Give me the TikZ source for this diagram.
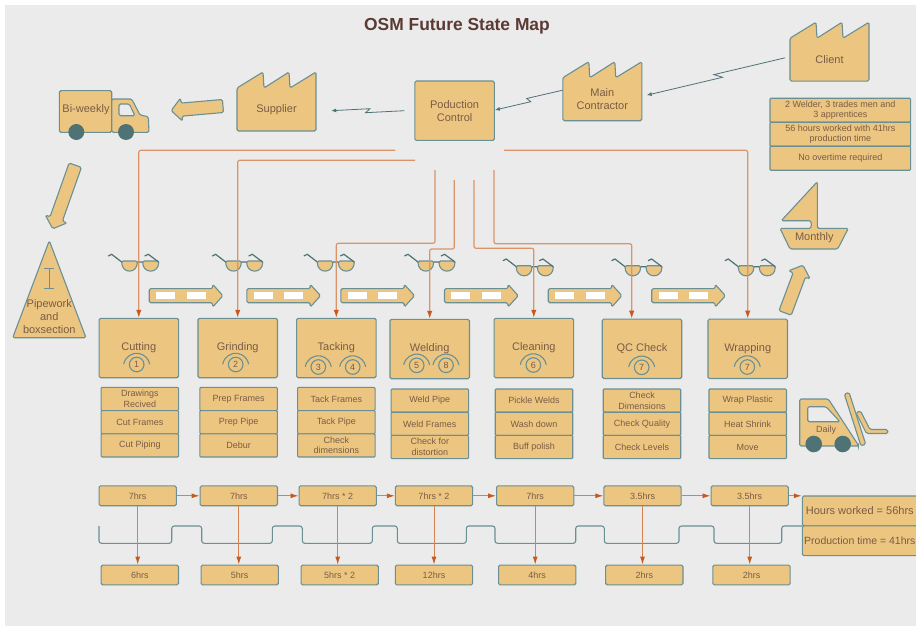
\documentclass[tikz,border=0pt]{standalone}
\usepackage{fontspec}
\setmainfont{Liberation Sans}
\usetikzlibrary{arrows.meta,calc,shapes.arrows}

\definecolor{panelgrey}{HTML}{EBEBEB}
\definecolor{boxfill}{HTML}{ECC681}
\definecolor{boxline}{HTML}{6A9093}
\definecolor{darkteal}{HTML}{4F7275}
\definecolor{labelbrown}{HTML}{7A5B45}
\definecolor{titlebrown}{HTML}{5B3A34}
\definecolor{signalline}{HTML}{DB9468}
\definecolor{tiporange}{HTML}{C8591E}

\tikzset{
    vsm/.style={draw=boxline, fill=boxfill, line width=1.1pt, rounded corners=1.5pt},
    textbig/.style={text=labelbrown, font=\fontsize{11}{13.2}\selectfont, align=center},
    textsmall/.style={text=labelbrown, font=\fontsize{9}{10.7}\selectfont, align=center},
    process_box/.style={vsm, textbig, rectangle, inner sep=0pt, minimum width=79.5pt, minimum height=59.4pt},
    row_box/.style={vsm, textsmall, rectangle, rounded corners=1pt, inner sep=0pt, minimum width=77.5pt, minimum height=23.2pt},
    time_box/.style={vsm, textsmall, rectangle, inner sep=0pt, minimum width=77.3pt, minimum height=19.8pt},
    info_box/.style={vsm, textsmall, rectangle, rounded corners=1pt, inner sep=0pt, minimum width=140.7pt, minimum height=24pt},
    total_box/.style={vsm, textbig, rectangle, inner sep=0pt, minimum width=115pt, minimum height=29.8pt},
    factory_body/.style={textbig, rectangle, inner sep=0pt, minimum width=79pt, minimum height=43pt},
    gauge_dial/.style={circle, draw=boxline, line width=1.1pt, textsmall, inner sep=0pt, minimum size=14.6pt},
    gauge_arc/.style={draw=boxline, line width=1.1pt},
    bulky_arrow/.style={vsm, single arrow, inner sep=0pt, text height=12pt, text depth=0pt, text width=0pt, single arrow head extend=5pt, single arrow tip angle=96},
    push_arrow/.style={bulky_arrow, minimum height=73.7pt, text height=13pt, single arrow head extend=4.35pt},
    phone_line/.style={draw=darkteal, line width=.8pt, -{Latex[length=5pt,width=4pt]}},
    signal_line/.style={draw=signalline, line width=1.2pt, rounded corners=2pt, -{Latex[length=8pt,width=5.5pt,color=tiporange]}},
    flow_line/.style={draw=signalline!70!tiporange, line width=.9pt, -{Latex[length=8pt,width=5pt,color=tiporange]}},
    zigzag/.style={to path={-- ($(\tikztostart)!.53!(\tikztotarget)+(0,#1)$) -- ($(\tikztostart)!.47!(\tikztotarget)+(0,-#1)$) -- (\tikztotarget)}}
}

% factory with its body as the node
\newcommand{\factory}[4]{
        \draw[vsm, shift={(#2,#3)}] (-39.5,-21.5) -- (-13.5,-37.5) -- (-12.5,-21.5) -- (12.5,-37.5) -- (13.5,-21.5) -- (39.5,-37.5) -- (39.5,21.5) -- (-39.5,21.5) -- cycle;
        \node[factory_body] (#1) at (#2,#3) {#4};
}
% go see glasses
\newcommand{\glasses}[2]{
        \draw[vsm, shift={(#1,#2)}] (-18.5,0) .. controls (-18.5,13) and (-2.9,13) .. (-2.9,0) -- cycle;
        \draw[vsm, shift={(#1,#2)}] (2.5,0) .. controls (2.5,13) and (18.5,13) .. (18.5,0) -- cycle;
        \draw[darkteal, line width=1.2pt, shift={(#1,#2)}] (-32,-5) -- (-28.5,-6.7) -- (-18.5,1) (-2.9,1) -- (2.5,1) (4.5,-5) -- (8.1,-6.7) -- (18.5,1);
}
% operator dial
\newcommand{\gauge}[4]{
        \node[gauge_dial] (#1) at (#2,#3) {#4};
        \draw[gauge_arc] (#2-13,#3-.3) arc[start angle=170, end angle=10, radius=13.2pt];
}
% three rows under a process
\newcommand{\taskstack}[6]{
        \node[row_box] (#1_a) at (#2,#3) {#4};
        \node[row_box] (#1_b) at (#2,#3+23.2) {#5};
        \node[row_box] (#1_c) at (#2,#3+46.4) {#6};
}
% striped push arrow
\newcommand{\pusharrow}[2]{
        \node[push_arrow] (#1) at (#2-3,295.7) {};
        \fill[white] (#2-29.8,292.4) rectangle ++(19,6.8);
        \fill[white] (#2+.7,292.4) rectangle ++(19,6.8);
}

\begin{document}
\begin{tikzpicture}[x=1pt,y=-1pt]
        \useasboundingbox (0,0) rectangle (916,626);
        \fill[panelgrey] (5,5) rectangle (916,626);

        \node[text=titlebrown, font=\fontsize{17.4}{20}\selectfont\bfseries] (title) at (457,26) {OSM Future State Map};

        % top row
        \factory{supplier}{276.5}{109.5}{Supplier}
        \factory{contractor}{602.3}{99.2}{Main\\Contractor}
        \factory{client}{829.5}{59.7}{Client}
        \node[process_box] (control) at (454.6,110.7) {Poduction\\Control};

        \draw[phone_line, shorten <=5pt] ([yshift=3pt]client.west) to[zigzag=-2.5] ([yshift=4pt,xshift=4.7pt]contractor.east);
        \draw[phone_line] ([yshift=9pt]contractor.west) to[zigzag=-2.2] ([yshift=.7pt]control.east);
        \draw[phone_line] ([xshift=-10pt]control.west) to[zigzag=2] ([xshift=15pt,yshift=-1.2pt]supplier.east);

        % truck
        \draw[vsm] (59.3,90.7) rectangle (111.7,132.3);
        \draw[vsm] (111.7,99) -- (131.7,99) -- (140,115) -- (148.3,116.7) -- (149,132.3) -- (111.7,132.3) -- cycle;
        \draw[vsm, fill=panelgrey] (119,104) -- (129.3,104) -- (135,115.7) -- (119,115.7) -- cycle;
        \fill[darkteal] (76.3,132) circle[radius=8pt] (126,132) circle[radius=8pt];
        \node[textbig] (truck) at (86,109.3) {Bi-weekly};

        \node[bulky_arrow, minimum height=52pt, rotate=185] (arrow_supplier) at (200,108) {};
        \node[bulky_arrow, minimum height=67.5pt, rotate=250.5] (arrow_truck) at (65,194.2) {};
        \node[bulky_arrow, minimum height=51pt, rotate=69.5] (arrow_monthly) at (793,291.8) {};

        % inventory
        \draw[vsm] (49.3,240.7) -- (86,337.7) -- (12.7,337.7) -- cycle;
        \draw[boxline, line width=1pt] (44.3,268.3) -- (54.3,268.3) (49.3,268.3) -- (49.3,288.3) (44.3,288.3) -- (54.3,288.3);
        \node[textbig] (pipework) at (49.3,316.7) {Pipework\\and\\boxsection};

        % boat
        \draw[vsm] (817.3,181.7) -- (781.3,220.7) -- (808,220.7) .. controls (812,220.7) and (812,228.3) .. (808,228.3) -- (780,228.3) -- (790,249) -- (837.7,249) -- (848.3,228.3) -- (817.3,228.3) -- cycle;
        \node[textbig] (monthly) at (814.3,238) {Monthly};

        % info table
        \node[info_box] (info_a) at (840.3,110.2) {2 Welder, 3 trades men and\\3 apprentices};
        \node[info_box] (info_b) at (840.3,134.2) {56 hours worked with 41hrs\\production time};
        \node[info_box] (info_c) at (840.3,158.2) {No overtime required};

        % forklift
        \draw[vsm] (856,412.5) -- (860.5,411) -- (870,429.5) -- (887.5,429.5) -- (888,433.5) -- (866.5,433.5) -- cycle;
        \draw[vsm] (844.3,394.1) -- (849.1,392.5) -- (865.7,444.2) -- (860.9,445.8) -- cycle;
        \draw[vsm] (799.7,399) -- (828.3,399) -- (858.3,445) -- (858.3,446) -- (799.7,446) -- cycle;
        \draw[vsm, fill=panelgrey] (807.7,406.7) -- (826,406.7) -- (840,421.7) -- (807.7,421.7) -- cycle;
        \fill[darkteal] (813.7,444) circle[radius=8.3pt] (842.7,444) circle[radius=8.3pt];
        \node[textsmall] (forklift) at (826,430) {Daily};

        % glasses
        \glasses{140.2}{261}
        \glasses{244.2}{261}
        \glasses{335.8}{261}
        \glasses{436.5}{261}
        \glasses{534.8}{265.7}
        \glasses{643.5}{265.7}
        \glasses{756.8}{265.7}

        % push arrows
        \pusharrow{push1}{185.9}
        \pusharrow{push2}{283.5}
        \pusharrow{push3}{377.5}
        \pusharrow{push4}{481.2}
        \pusharrow{push5}{584.9}
        \pusharrow{push6}{688.4}

        % process boxes
        \node[process_box] (cutting) at (138.8,348) {Cutting};
        \node[process_box] (grinding) at (237.7,348) {Grinding};
        \node[process_box] (tacking) at (336.3,348) {Tacking};
        \node[process_box] (welding) at (429.7,349) {Welding};
        \node[process_box] (cleaning) at (533.8,348) {Cleaning};
        \node[process_box] (qc) at (642,348.8) {QC Check};
        \node[process_box] (wrapping) at (747.7,348.8) {Wrapping};

        \gauge{dial1}{136.7}{364.5}{1}
        \gauge{dial2}{235.7}{364.5}{2}
        \gauge{dial3}{318.3}{367}{3}
        \gauge{dial4}{352.7}{367}{4}
        \gauge{dial5}{416.7}{365.3}{5}
        \gauge{dial8}{446}{365.3}{8}
        \gauge{dial6}{533.3}{365}{6}
        \gauge{dial7}{641.7}{367.3}{7}
        \gauge{dial9}{747.3}{367}{7}

        % signals from control
        \coordinate (signal1) at (395.3,150.3);
        \coordinate (signal2) at (415,160.3);
        \coordinate (signal3) at (435,170);
        \coordinate (signal4) at (454.3,180);
        \coordinate (signal5) at (474,180);
        \coordinate (signal6) at (494,170);
        \coordinate (signal7) at (504,150.3);
        \draw[signal_line] (signal1) -| (cutting.north);
        \draw[signal_line] (signal2) -| (grinding.north);
        \draw[signal_line] (signal3) -- ++(0,73.3) -| (tacking.north);
        \draw[signal_line] (signal4) -- ++(0,69) -| (welding.north);
        \draw[signal_line] (signal5) -- ++(0,68.3) -| (cleaning.north);
        \draw[signal_line] (signal6) -- ++(0,73.7) -| ([xshift=-10.3pt]qc.north);
        \draw[signal_line] (signal7) -| (wrapping.north);

        % task rows
        \taskstack{cutting}{139.8}{399}{Drawings\\Recived}{Cut Frames}{Cut Piping}
        \taskstack{grinding}{238.6}{399}{Prep Frames}{Prep Pipe}{Debur}
        \taskstack{tacking}{336.3}{399}{Tack Frames}{Tack Pipe}{Check\\dimensions}
        \taskstack{welding}{429.8}{400.6}{Weld Pipe}{Weld Frames}{Check for\\distortion}
        \taskstack{cleaning}{534}{400.6}{Pickle Welds}{Wash down}{Buff polish}
        \taskstack{checks}{642}{400.6}{Check\\Dimensions}{Check Quality}{Check Levels}
        \taskstack{wrap}{747.7}{400.6}{Wrap Plastic}{Heat Shrink}{Move}

        % timeline
        \draw[boxline, line width=1.1pt, rounded corners=2.5pt] (99,526) |- (171.7,543.3) |- (201.7,526) |- (272.3,543.3) |- (302.3,526) |- (372.3,543.3) |- (397.3,526) |- (466.3,543.3) |- (495,526) |- (575.7,543.3) |- (604.3,526) |- (679,543.3) |- (714,526) |- (781.7,543.3) |- (802.3,526);

        \node[time_box] (time1) at (137.7,495.8) {7hrs};
        \node[time_box] (time2) at (238.8,495.8) {7hrs};
        \node[time_box] (time3) at (337.7,495.8) {7hrs * 2};
        \node[time_box] (time4) at (434,495.8) {7hrs * 2};
        \node[time_box] (time5) at (535.2,495.8) {7hrs};
        \node[time_box] (time6) at (642.5,495.8) {3.5hrs};
        \node[time_box] (time7) at (749.7,495.8) {3.5hrs};

        \node[time_box] (wait1) at (139.8,575) {6hrs};
        \node[time_box] (wait2) at (239.7,575) {5hrs};
        \node[time_box] (wait3) at (339.7,575) {5hrs * 2};
        \node[time_box] (wait4) at (434,575) {12hrs};
        \node[time_box] (wait5) at (537.2,575) {4hrs};
        \node[time_box] (wait6) at (644.3,575) {2hrs};
        \node[time_box] (wait7) at (751.5,575) {2hrs};

        \node[total_box] (hours) at (859.8,510.9) {Hours worked = 56hrs};
        \node[total_box, font=\fontsize{10.5}{12}\selectfont] (production) at (859.8,540.7) {Production time = 41hrs};

        \draw[flow_line] (time1) -- (time2);
        \draw[flow_line] (time2) -- (time3);
        \draw[flow_line] (time3) -- (time4);
        \draw[flow_line] (time4) -- (time5);
        \draw[flow_line] (time5) -- (time6);
        \draw[flow_line] (time6) -- (time7);
        \draw[flow_line] (time7.east) -- (time7.east -| hours.north west);

        \draw[flow_line] (time1.south) -- (time1.south |- wait1.north);
        \draw[flow_line] (time2.south) -- (time2.south |- wait2.north);
        \draw[flow_line] (time3.south) -- (time3.south |- wait3.north);
        \draw[flow_line] (time4.south) -- (time4.south |- wait4.north);
        \draw[flow_line] (time5.south) -- (time5.south |- wait5.north);
        \draw[flow_line] (time6.south) -- (time6.south |- wait6.north);
        \draw[flow_line] (time7.south) -- (time7.south |- wait7.north);
\end{tikzpicture}
\end{document}
